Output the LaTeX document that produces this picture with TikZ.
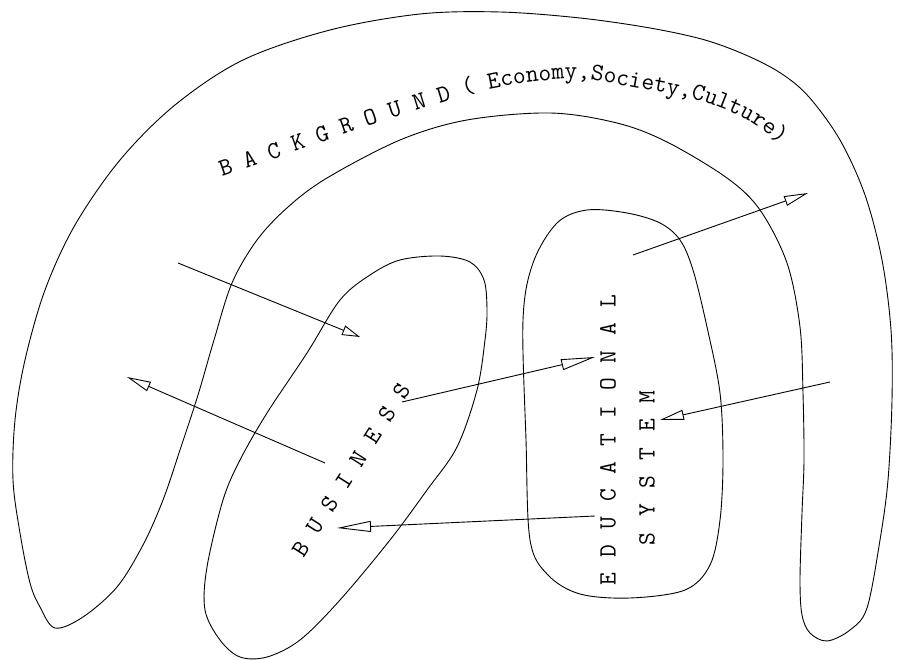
\documentclass[tikz,border=0pt]{standalone}
\usetikzlibrary{arrows.meta,decorations.text}
\begin{document}
\begin{tikzpicture}[x=1pt,y=-1pt,
  outline/.style={draw=black, line width=0.9pt},
  flow/.style={draw=black, line width=0.9pt},
  lab/.style={font=\ttfamily\fontsize{24.8}{26}\selectfont, inner sep=0pt},
  tipS/.style={-{Triangle[open,length=18pt,width=10pt]}},
  tipL/.style={-{Triangle[open,length=34pt,width=11pt]}},
  tipM/.style={-{Triangle[open,length=24pt,width=10pt]}},
]
\useasboundingbox (0,0) rectangle (897,660);

% background arch
\draw[outline] plot[smooth cycle, tension=0.55] coordinates {
 (55,628) (40,607) (30,583) (20,533) (13,480) (15,420) (25,360) (45,290)
 (75,225) (120,160) (175,105) (243,60) (330,30) (420,14) (500,12) (580,18)
 (650,28) (705,40) (748,56) (782,74) (809,97) (840,140) (865,195) (882,260) (891,330)
 (892,400) (888,480) (880,540) (867,608) (850,630) (827,641) (810,633)
 (802,615) (800,580) (802,513) (804,460) (803,393) (800,327) (787,263)
 (760,210) (727,178) (667,142) (617,123) (550,113) (467,120) (400,140)
 (327,178) (288,207) (257,240) (232,283) (214,340) (198,395) (180,450)
 (163,500) (143,545) (117,587) (83,617)};

% business
\draw[outline] plot[smooth cycle, tension=0.55] coordinates {
 (400,260) (440,256) (470,262) (484,280) (487,310) (485,340) (477,390)
 (457,447) (427,490) (390,540) (340,600) (300,640) (267,657) (240,657)
 (220,640) (205,610) (207,567) (223,500) (240,460) (267,413) (307,353)
 (340,300) (370,275)};

% educational system
\draw[outline] plot[smooth cycle, tension=0.55] coordinates {
 (523,320) (533,263) (557,223) (587,210) (627,213) (660,223) (680,240)
 (693,270) (707,327) (720,393) (723,460) (720,520) (710,565) (685,590)
 (630,598) (580,594) (548,575) (530,540) (526,440)};

% background label
\path[decorate, decoration={text along path, text align=left,
  text={|\ttfamily\fontsize{24.8}{26}\selectfont|B A C K G R O U N D ( Economy,Society,Culture)}}]
  plot[smooth, tension=0.6] coordinates {(222,177) (300,150) (380,122) (460,97)
  (494,88) (540,81) (580,79) (620,85) (680,96) (710,104) (750,122) (790,152) (815,175)};

\node[lab, rotate=57.5] (bus) at (351,470) {\spaceskip=14pt B U S I N E S S};
\node[lab, rotate=90] (edu) at (608,440) {\spaceskip=15pt E D U C A T I O N A L};
\node[lab, rotate=90] (sys) at (647,468) {\spaceskip=15.6pt S Y S T E M};

% arrows
\coordinate (a1s) at (178,263); \coordinate (a1e) at (360,337);
\coordinate (a2s) at (325,463); \coordinate (a2e) at (127,377);
\coordinate (a3s) at (402,402); \coordinate (a3e) at (595,357);
\coordinate (a4s) at (595,516); \coordinate (a4e) at (337,528);
\coordinate (a5s) at (633,255); \coordinate (a5e) at (808,193);
\coordinate (a6s) at (830,382); \coordinate (a6e) at (660,420);

\draw[flow, tipS] (a1s) -- (a1e);
\draw[flow, tipM] (a2s) -- (a2e);
\draw[flow, tipL] (a3s) -- (a3e);
\draw[flow, tipL] (a4s) -- (a4e);
\draw[flow, tipM] (a5s) -- (a5e);
\draw[flow, tipM] (a6s) -- (a6e);
\end{tikzpicture}
\end{document}
